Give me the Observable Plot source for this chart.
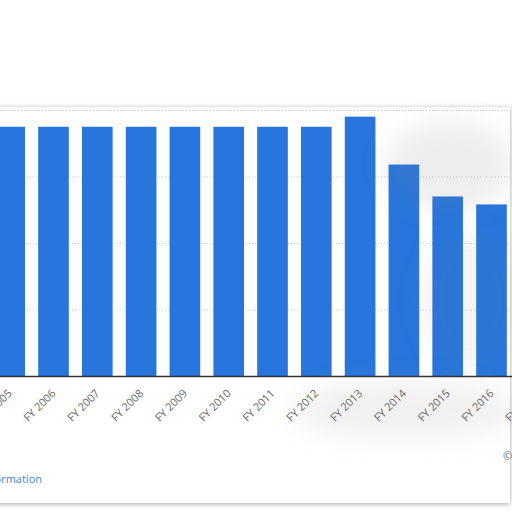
<!DOCTYPE html>
<html>
<head>
<meta charset="utf-8">
<script src="https://cdn.jsdelivr.net/npm/d3@7"></script>
<script src="https://cdn.jsdelivr.net/npm/@observablehq/plot@0.6"></script>
<style>
  html, body { margin: 0; padding: 0; background: #fff; overflow: hidden; }
  #wrap { position: relative; width: 512px; height: 512px; overflow: hidden; background: #fff; font-family: "Open Sans", sans-serif; }
  #card { position: absolute; left: -20px; top: 107px; width: 530px; height: 396px; background: #fff;
          box-shadow: 0 1px 5px rgba(0,0,0,0.35); }
  #chart { position: absolute; left: 0; top: 0; }
  .blur { position: absolute; pointer-events: none; filter: blur(12px); border-radius: 50%; }
  #b1 { left: 385px; top: 120px; width: 130px; height: 90px; background: rgba(120,120,120,0.13); }
  #b2 { left: 290px; top: 380px; width: 230px; height: 60px; background: rgba(120,120,120,0.10); }
  #b3 { left: 420px; top: 230px; width: 100px; height: 140px; background: rgba(120,120,120,0.08); }
  #info { position: absolute; right: 470px; top: 471px; font-size: 11px; color: #3a8ad6; white-space: nowrap; }
  #copy { position: absolute; left: 503px; top: 448px; font-size: 11px; color: #666; white-space: nowrap; }
</style>
</head>
<body>
<div id="wrap">
  <div id="card"></div>
  <div id="chart"></div>
  <div class="blur" id="b1"></div>
  <div class="blur" id="b2"></div>
  <div class="blur" id="b3"></div>
  <div id="info">Additional Information</div>
  <div id="copy">© Statista 2021</div>
</div>
<script>
const years = ["FY 2005","FY 2006","FY 2007","FY 2008","FY 2009","FY 2010","FY 2011","FY 2012","FY 2013","FY 2014","FY 2015","FY 2016","FY 2017"];
const values = [93.7, 93.7, 93.7, 93.7, 93.7, 93.7, 93.7, 93.7, 97.5, 79.5, 67.5, 64.5, 62];
const gridValues = [25, 50, 75, 100];

const data = years.map((y, i) => ({year: y, value: values[i]}));

const plot = Plot.plot({
  width: 512,
  height: 512,
  marginTop: 110,
  marginBottom: 136,
  marginLeft: 0,
  marginRight: 0,
  style: {background: "transparent", fontFamily: "Open Sans, sans-serif", overflow: "hidden"},
  x: {domain: years, range: [-12.2, 557.2], paddingInner: 0.3, paddingOuter: 0.15, round: false, axis: null},
  y: {domain: [0, 100], axis: null},
  marks: [
    Plot.ruleY(gridValues, {stroke: "#c8c8c8", strokeDasharray: "1,2", strokeWidth: 1}),
    Plot.barY(data, {x: "year", y: "value", fill: "#2876dd"}),
    Plot.ruleY([0], {stroke: "#333", strokeWidth: 1.5}),
    Plot.axisX({tickSize: 0, tickPadding: 15, tickRotate: -45, fontSize: 11, fill: "#666", label: null})
  ]
});
document.getElementById("chart").appendChild(plot);
</script>
</body>
</html>
